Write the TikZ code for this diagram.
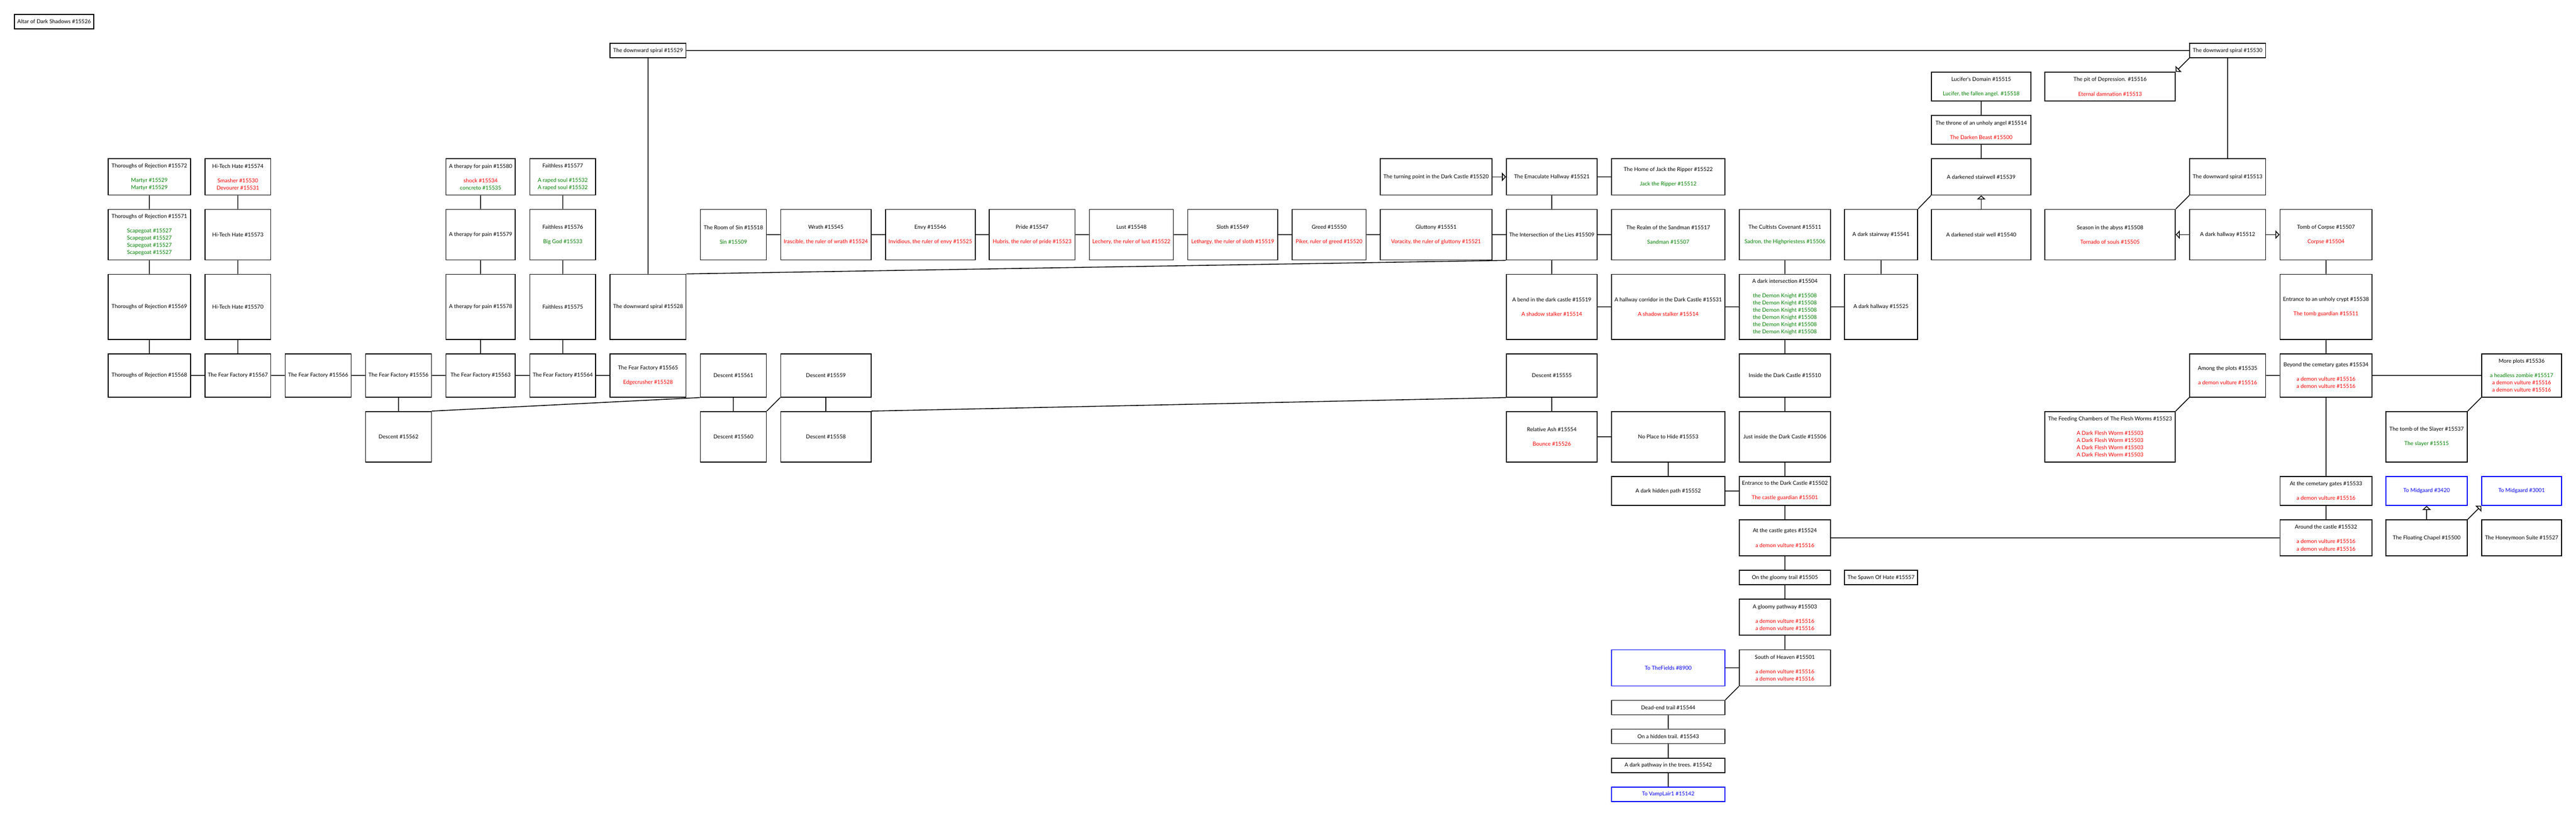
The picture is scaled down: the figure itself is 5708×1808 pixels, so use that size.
\documentclass[tikz,border=0pt]{standalone}
\usepackage{fontspec}
\setmainfont{Lato}
\usetikzlibrary{arrows.meta}
\definecolor{gr}{RGB}{0,128,0}
\definecolor{rd}{RGB}{255,0,0}
\definecolor{bl}{RGB}{0,0,255}
\newcommand{\gtx}[1]{\textcolor{gr}{#1}}
\newcommand{\rtx}[1]{\textcolor{rd}{#1}}
\newcommand{\bx}[7][]{%
  \pgfmathsetmacro{\bxw}{(#5-#3)*0.5}%
  \pgfmathsetmacro{\bxh}{(#6-#4)*0.5}%
  \node[box,#1,minimum width=\bxw pt,minimum height=\bxh pt] (#2) at ({(#3+#5)/2},{(#4+#6)/2}) {#7};}
\begin{document}
\begin{tikzpicture}[x=0.5pt,y=-0.5pt,
  box/.style={draw,line width=1pt,inner sep=0pt,align=center,font=\fontsize{6}{8}\selectfont},
  lnk/.style={draw=bl,text=bl},
  ln/.style={line width=0.9pt},
  ar/.style={ln,-{Triangle[open,length=4.5pt,width=9.5pt]}}]
\fill[white] (0,0) rectangle (5708,1808);
\useasboundingbox (0,0) rectangle (5708,1808);

\bx{altar}{32}{32}{208}{64}{Altar of Dark Shadows \#15526}

% C0
\bx{t72}{240}{352}{422}{432}{Thoroughs of Rejection \#15572\\[8pt]\gtx{Martyr \#15529}\\\gtx{Martyr \#15529}}
\bx{t71}{240}{464}{422}{576}{Thoroughs of Rejection \#15571\\[8pt]\gtx{Scapegoat \#15527}\\\gtx{Scapegoat \#15527}\\\gtx{Scapegoat \#15527}\\\gtx{Scapegoat \#15527}}
\bx{t69}{240}{608}{422}{752}{Thoroughs of Rejection \#15569}
\bx{t68}{240}{784}{422}{880}{Thoroughs of Rejection \#15568}
% C1
\bx{h74}{454}{352}{600}{432}{Hi-Tech Hate \#15574\\[8pt]\rtx{Smasher \#15530}\\\rtx{Devourer \#15531}}
\bx{h73}{454}{464}{600}{576}{Hi-Tech Hate \#15573}
\bx{h70}{454}{608}{600}{752}{Hi-Tech Hate \#15570}
\bx{f67}{454}{784}{600}{880}{The Fear Factory \#15567}
% C2
\bx{f66}{632}{784}{778}{880}{The Fear Factory \#15566}
% C3
\bx{f56}{810}{784}{956}{880}{The Fear Factory \#15556}
\bx{d62}{810}{912}{956}{1024}{Descent \#15562}
% C4
\bx{a80}{988}{352}{1142}{432}{A therapy for pain \#15580\\[8pt]\rtx{shock \#15534}\\\gtx{concreto \#15535}}
\bx{a79}{988}{464}{1142}{576}{A therapy for pain \#15579}
\bx{a78}{988}{608}{1142}{752}{A therapy for pain \#15578}
\bx{f63}{988}{784}{1142}{880}{The Fear Factory \#15563}
% C5
\bx{fa77}{1174}{352}{1320}{432}{Faithless \#15577\\[8pt]\gtx{A raped soul \#15532}\\\gtx{A raped soul \#15532}}
\bx{fa76}{1174}{464}{1320}{576}{Faithless \#15576\\[8pt]\gtx{Big God \#15533}}
\bx{fa75}{1174}{608}{1320}{752}{Faithless \#15575}
\bx{f64}{1174}{784}{1320}{880}{The Fear Factory \#15564}
% C6
\bx{s29}{1352}{96}{1520}{128}{The downward spiral \#15529}
\bx{s28}{1352}{608}{1520}{752}{The downward spiral \#15528}
\bx{f65}{1352}{784}{1520}{880}{The Fear Factory \#15565\\[8pt]\rtx{Edgecrusher \#15528}}
% C7
\bx{room}{1552}{464}{1698}{576}{The Room of Sin \#15518\\[8pt]\gtx{Sin \#15509}}
\bx{d61}{1552}{784}{1698}{880}{Descent \#15561}
\bx{d60}{1552}{912}{1698}{1024}{Descent \#15560}
% C8
\bx{wrath}{1730}{464}{1930}{576}{Wrath \#15545\\[8pt]\rtx{Irascible, the ruler of wrath \#15524}}
\bx{d59}{1730}{784}{1930}{880}{Descent \#15559}
\bx{d58}{1730}{912}{1930}{1024}{Descent \#15558}
% C9-C13
\bx{envy}{1962}{464}{2161}{576}{Envy \#15546\\[8pt]\rtx{Invidious, the ruler of envy \#15525}}
\bx{pride}{2192}{464}{2382}{576}{Pride \#15547\\[8pt]\rtx{Hubris, the ruler of pride \#15523}}
\bx{lust}{2414}{464}{2600}{576}{Lust \#15548\\[8pt]\rtx{Lechery, the ruler of lust \#15522}}
\bx{sloth}{2632}{464}{2831}{576}{Sloth \#15549\\[8pt]\rtx{Lethargy, the ruler of sloth \#15519}}
\bx{greed}{2863}{464}{3027}{576}{Greed \#15550\\[8pt]\rtx{Piker, ruler of greed \#15520}}
% C14
\bx{turn}{3058}{352}{3306}{432}{The turning point in the Dark Castle \#15520}
\bx{glut}{3058}{464}{3306}{576}{Gluttony \#15551\\[8pt]\rtx{Voracity, the ruler of gluttony \#15521}}
% C15
\bx{emac}{3338}{352}{3539}{432}{The Emaculate Hallway \#15521}
\bx{inter}{3338}{464}{3539}{576}{The Intersection of the Lies \#15509}
\bx{bend}{3338}{608}{3539}{752}{A bend in the dark castle \#15519\\[8pt]\rtx{A shadow stalker \#15514}}
\bx{d55}{3338}{784}{3539}{880}{Descent \#15555}
\bx{ash}{3338}{912}{3539}{1024}{Relative Ash \#15554\\[8pt]\rtx{Bounce \#15526}}
% C16
\bx{jack}{3571}{352}{3822}{432}{The Home of Jack the Ripper \#15522\\[8pt]\gtx{Jack the Ripper \#15512}}
\bx{sand}{3571}{464}{3822}{576}{The Realm of the Sandman \#15517\\[8pt]\gtx{Sandman \#15507}}
\bx{corr}{3571}{608}{3822}{752}{A hallway corridor in the Dark Castle \#15531\\[8pt]\rtx{A shadow stalker \#15514}}
\bx{noplace}{3571}{912}{3822}{1024}{No Place to Hide \#15553}
\bx{hidden}{3571}{1056}{3822}{1120}{A dark hidden path \#15552}
\bx[lnk]{fields}{3571}{1440}{3822}{1520}{To TheFields \#8900}
\bx{deadend}{3571}{1552}{3822}{1584}{Dead-end trail \#15544}
\bx{htrail}{3571}{1616}{3822}{1648}{On a hidden trail. \#15543}
\bx{dpath}{3571}{1680}{3822}{1712}{A dark pathway in the trees. \#15542}
\bx[lnk]{vamp}{3571}{1744}{3822}{1776}{To VampLair1 \#15142}
% C17
\bx{cult}{3854}{464}{4056}{576}{The Cultists Covenant \#15511\\[8pt]\gtx{Sadron, the Highpriestess \#15506}}
\bx{dint}{3854}{608}{4056}{752}{A dark intersection \#15504\\[8pt]\gtx{the Demon Knight \#15508}\\\gtx{the Demon Knight \#15508}\\\gtx{the Demon Knight \#15508}\\\gtx{the Demon Knight \#15508}\\\gtx{the Demon Knight \#15508}\\\gtx{the Demon Knight \#15508}}
\bx{inside}{3854}{784}{4056}{880}{Inside the Dark Castle \#15510}
\bx{just}{3854}{912}{4056}{1024}{Just inside the Dark Castle \#15506}
\bx{entr}{3854}{1056}{4056}{1120}{Entrance to the Dark Castle \#15502\\[8pt]\rtx{The castle guardian \#15501}}
\bx{gates}{3854}{1152}{4056}{1232}{At the castle gates \#15524\\[8pt]\rtx{a demon vulture \#15516}}
\bx{trail}{3854}{1264}{4056}{1296}{On the gloomy trail \#15505}
\bx{gpath}{3854}{1328}{4056}{1408}{A gloomy pathway \#15503\\[8pt]\rtx{a demon vulture \#15516}\\\rtx{a demon vulture \#15516}}
\bx{south}{3854}{1440}{4056}{1520}{South of Heaven \#15501\\[8pt]\rtx{a demon vulture \#15516}\\\rtx{a demon vulture \#15516}}
% C18
\bx{dstair}{4087}{464}{4249}{576}{A dark stairway \#15541}
\bx{dhallb}{4087}{608}{4249}{752}{A dark hallway \#15525}
\bx{spawn}{4087}{1264}{4249}{1296}{The Spawn Of Hate \#15557}
% C19
\bx{luc}{4280}{160}{4500}{224}{Lucifer's Domain \#15515\\[8pt]\gtx{Lucifer, the fallen angel. \#15518}}
\bx{throne}{4280}{256}{4500}{320}{The throne of an unholy angel \#15514\\[8pt]\rtx{The Darken Beast \#15500}}
\bx{swa}{4280}{352}{4500}{432}{A darkened stairwell \#15539}
\bx{swb}{4280}{464}{4500}{576}{A darkened stair well \#15540}
% C20
\bx{pit}{4531}{160}{4820}{224}{The pit of Depression. \#15516\\[8pt]\rtx{Eternal damnation \#15513}}
\bx{season}{4531}{464}{4820}{576}{Season in the abyss \#15508\\[8pt]\rtx{Tornado of souls \#15505}}
\bx{feed}{4531}{912}{4820}{1024}{The Feeding Chambers of The Flesh Worms \#15523\\[8pt]\rtx{A Dark Flesh Worm \#15503}\\\rtx{A Dark Flesh Worm \#15503}\\\rtx{A Dark Flesh Worm \#15503}\\\rtx{A Dark Flesh Worm \#15503}}
% C21
\bx{s30}{4852}{96}{5020}{128}{The downward spiral \#15530}
\bx{s13}{4852}{352}{5020}{432}{The downward spiral \#15513}
\bx{dhalla}{4852}{464}{5020}{576}{A dark hallway \#15512}
\bx{among}{4852}{784}{5020}{880}{Among the plots \#15535\\[8pt]\rtx{a demon vulture \#15516}}
% C22
\bx{tomb}{5052}{464}{5256}{576}{Tomb of Corpse \#15507\\[8pt]\rtx{Corpse \#15504}}
\bx{crypt}{5052}{608}{5256}{752}{Entrance to an unholy crypt \#15538\\[8pt]\rtx{The tomb guardian \#15511}}
\bx{beyond}{5052}{784}{5256}{880}{Beyond the cemetary gates \#15534\\[8pt]\rtx{a demon vulture \#15516}\\\rtx{a demon vulture \#15516}}
\bx{cgates}{5052}{1056}{5256}{1120}{At the cemetary gates \#15533\\[8pt]\rtx{a demon vulture \#15516}}
\bx{around}{5052}{1152}{5256}{1232}{Around the castle \#15532\\[8pt]\rtx{a demon vulture \#15516}\\\rtx{a demon vulture \#15516}}
% C23
\bx{slayer}{5287}{912}{5467}{1024}{The tomb of the Slayer \#15537\\[8pt]\gtx{The slayer \#15515}}
\bx[lnk]{mida}{5287}{1056}{5467}{1120}{To Midgaard \#3420}
\bx{chapel}{5287}{1152}{5467}{1232}{The Floating Chapel \#15500}
% C24
\bx{more}{5499}{784}{5676}{880}{More plots \#15536\\[8pt]\gtx{a headless zombie \#15517}\\\rtx{a demon vulture \#15516}\\\rtx{a demon vulture \#15516}}
\bx[lnk]{midb}{5499}{1056}{5676}{1120}{To Midgaard \#3001}
\bx{honey}{5499}{1152}{5676}{1232}{The Honeymoon Suite \#15527}

% connectors
\draw[ln] (t72)--(t71) (t71)--(t69) (t69)--(t68)
  (h74)--(h73) (h73)--(h70) (h70)--(f67)
  (t68)--(f67) (f67)--(f66) (f66)--(f56) (f56)--(f63) (f63)--(f64) (f64)--(f65)
  (a80)--(a79) (a79)--(a78) (a78)--(f63)
  (fa77)--(fa76) (fa76)--(fa75) (fa75)--(f64)
  (f56)--(d62)
  (d62.north east)--(d61.south west)
  (s29)--(s28) (s29)--(s30)
  (s28.north east)--(inter.south west)
  (room)--(wrath) (wrath)--(envy) (envy)--(pride) (pride)--(lust) (lust)--(sloth) (sloth)--(greed) (greed)--(glut) (glut)--(inter) (inter)--(sand)
  (emac)--(jack) (emac)--(inter) (inter)--(bend) (bend)--(corr) (corr)--(dint) (dint)--(dhallb)
  (dhallb)--(dstair) (dstair.north east)--(swa.south west) (swa)--(throne) (throne)--(luc)
  (cult)--(dint) (dint)--(inside) (inside)--(just) (just)--(entr) (entr)--(gates) (gates)--(trail) (trail)--(gpath) (gpath)--(south)
  (d61)--(d60) (d59)--(d58) (d60.north east)--(d59.south west) (d58.north east)--(d55.south west)
  (d55)--(ash) (ash)--(noplace) (noplace)--(hidden) (hidden)--(entr)
  (gates)--(around)
  (south)--(fields) (south.south west)--(deadend.north east) (deadend)--(htrail) (htrail)--(dpath) (dpath)--(vamp)
  (s30)--(s13) (s13.south west)--(season.north east)
  (tomb)--(crypt) (crypt)--(beyond) (beyond)--(cgates) (cgates)--(around)
  (among)--(beyond) (beyond)--(more) (among.south west)--(feed.north east) (more.south west)--(slayer.north east);
\draw[ar] (turn)--(emac);
\draw[ar] (swb)--(swa);
\draw[ar] (s30.south west)--(pit.north east);
\draw[ar] (dhalla)--(season);
\draw[ar] (dhalla)--(tomb);
\draw[ar] (chapel)--(mida);
\draw[ar] (chapel.north east)--(midb.south west);
\end{tikzpicture}
\end{document}
